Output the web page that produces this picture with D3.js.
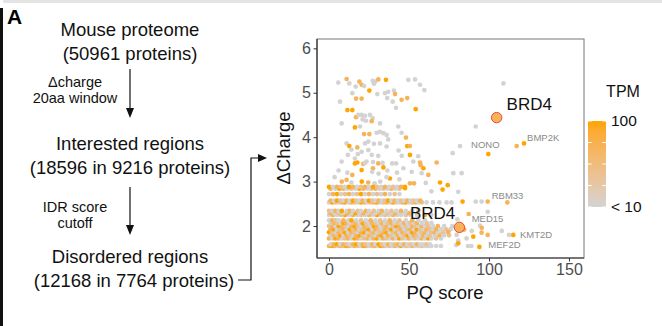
<!DOCTYPE html>
<html>
<head>
<meta charset="utf-8">
<script src="https://cdn.jsdelivr.net/npm/d3@7"></script>
<style>
  html, body { margin: 0; padding: 0; background: #fff; }
  svg { display: block; font-family: "Liberation Sans", Arial, Helvetica, sans-serif; }
</style>
</head>
<body>
<div id="fig"></div>
<script>
// flowchart text
const flowSteps = [
  ['Mouse proteome', '(50961 proteins)'],
  ['Interested regions', '(18596 in 9216 proteins)'],
  ['Disordered regions', '(12168 in 7764 proteins)'],
];
const flowFilters = [
  ['\u0394charge', '20aa window'],
  ['IDR score', 'cutoff'],
];

// axis ticks
const xTicks = [0, 50, 100, 150];
const yTicks = [2, 3, 4, 5, 6];

// TPM colour legend (log10 TPM)
const tpmBreaks = [1, 1.25, 1.5, 1.75, 2];
const tpmLabels = [[2, '100'], [1, '< 10']];

// regions in the sparse upper part: [PQ score, delta charge, TPM]
const upperRegions = [
  [5.8, 5.23, 5], [11, 5.31, 50], [12.7, 5.21, 5], [6.9, 4.8, 5], [14.6, 4.99, 5],
  [16.7, 5.14, 5], [19, 5.25, 50], [20.4, 5.18, 50], [21.9, 5.15, 5], [16.9, 4.87, 50],
  [20.4, 4.87, 50], [25.2, 5.05, 100], [27.3, 5.27, 5], [28.8, 5.25, 5], [30.8, 5.3, 50],
  [28.1, 5.2, 5], [30.2, 4.97, 5], [35.6, 5.29, 100], [35, 4.99, 5], [37, 5.02, 5],
  [40.6, 5.05, 5], [41.3, 4.97, 50], [36.4, 4.88, 5], [39.8, 4.8, 5], [41.9, 4.66, 5],
  [45.4, 4.84, 50], [48.9, 4.88, 50], [49.6, 5.29, 5], [53.8, 5.3, 5], [56.9, 5.18, 5],
  [59.6, 5.06, 5], [54.2, 4.63, 100], [11.5, 4.61, 100], [14.6, 4.61, 100], [7.9, 4.31, 5],
  [16.9, 4.45, 50], [18.3, 4.5, 5], [20.4, 4.5, 5], [22.5, 4.48, 5], [25.6, 4.5, 5],
  [27.3, 4.43, 5], [21, 4.4, 5], [23.1, 4.37, 5], [26.7, 4.36, 50], [16.2, 4.22, 100],
  [19.4, 4.24, 5], [31.9, 4.31, 5], [21.9, 4.07, 50], [25.2, 4.07, 50], [29.8, 4.1, 5],
  [31.9, 4.12, 5], [34, 4.09, 5], [36, 4.05, 5], [37, 3.95, 5], [43.3, 4.24, 5],
  [45.4, 4.1, 5], [48.1, 3.99, 50], [11, 3.86, 5], [12.7, 3.8, 100], [17.7, 3.77, 50],
  [22.5, 3.86, 5], [24.6, 3.9, 5], [28.1, 3.85, 5], [31.9, 3.86, 5], [36, 3.79, 5],
  [48.9, 3.8, 100], [50.5, 3.8, 50], [50.6, 3.6, 100], [20.4, 3.67, 5], [24.6, 3.71, 5],
  [26.7, 3.6, 5], [30.8, 3.58, 5], [11.8, 3.6, 5], [16.2, 3.52, 5], [17.7, 3.43, 100],
  [21.4, 3.4, 50], [23.5, 3.45, 5], [27.5, 3.44, 5], [34, 3.32, 100], [55.8, 3.57, 5],
  [56.9, 3.43, 50], [59, 3.3, 100], [67.3, 3.43, 50], [109, 5.21, 5], [91.7, 4.24, 5],
  [81.9, 3.8, 5], [77.3, 3.64, 5], [77.7, 3.19, 5], [82.9, 3.19, 5], [52.7, 3.45, 5],
  [57.3, 3.37, 50], [51.7, 3.22, 5], [57.9, 3.19, 5], [62.1, 3.15, 50], [69.4, 2.98, 100],
  [71, 2.82, 100], [50.6, 2.96, 50], [53.1, 2.96, 50], [74.2, 2.92, 100], [47.5, 2.85, 100],
  [7.9, 3.45, 5], [16.2, 3.41, 100], [20.4, 3.26, 100], [22.5, 3.42, 5], [27.5, 3.3, 50],
  [30.8, 3.41, 50], [33.5, 3.42, 5], [39.5, 3.41, 5], [42, 3.41, 5], [36.5, 3.25, 5],
  [42.5, 3.2, 5], [38.1, 3.07, 100], [11.5, 3.2, 5], [14.6, 3.15, 50], [8, 3.0, 50],
  [11, 3.04, 50], [14, 2.98, 5], [20.5, 3.0, 100], [24.5, 2.98, 50], [28.5, 2.96, 5],
  [32, 3.0, 5], [36, 3.1, 5], [44, 3.05, 5], [46.5, 3.3, 5], [6, 3.25, 5],
  [3.5, 3.1, 5], [45.5, 3.58, 5], [43.5, 3.7, 5], [14, 3.72, 5], [18, 3.62, 5],
  [27, 3.22, 5], [31, 3.18, 5], [80.8, 2.77, 5], [60.5, 2.97, 5], [64, 2.78, 5],
];

// regions along the dense lower bands: [delta charge, [[PQ score, TPM], ...]]
const bandRegions = [
  [1.55, [[0, 50], [1.8, 100], [3.6, 50], [5.4, 5], [7.2, 50], [9, 25], [10.8, 100], [12.6, 50],
    [14.4, 5], [16.2, 50], [18, 25], [19.8, 5], [21.6, 100], [23.4, 50], [25.2, 5], [27, 25],
    [28.8, 50], [30.6, 5], [32.4, 100], [34.2, 50], [36, 5], [37.8, 25], [39.6, 5], [41.4, 50],
    [43.2, 5], [45, 100], [46.8, 5], [48.6, 25], [50.4, 5], [52.2, 50], [54, 5], [56, 5],
    [58, 25], [60, 5], [62, 5], [64, 5], [67, 5], [70, 5]]],
  [1.59, [[1, 5], [3, 50], [5, 100], [7, 5], [9, 50], [11, 25], [13, 5], [15, 50], [17, 100],
    [19, 5], [21, 50], [23, 25], [25, 5], [27, 50], [29, 5], [31, 100], [33, 25], [35, 5],
    [37, 50], [39, 5], [41, 25], [43, 50], [45, 5], [47, 50], [49, 5], [51, 25], [53, 5],
    [55, 50], [57, 5], [59, 5], [61, 25], [63, 5]]],
  [1.72, [[0, 50], [2, 5], [4, 100], [6, 50], [8, 5], [10, 25], [12, 50], [14, 5], [16, 100],
    [18, 50], [20, 5], [22, 25], [24, 50], [26, 5], [28, 50], [30, 100], [32, 5], [34, 50],
    [36, 25], [38, 5], [40, 50], [42, 5], [44, 100], [46, 25], [48, 5], [50, 50], [52, 5],
    [54, 25], [56, 5], [58, 50], [60, 5], [62, 100], [64, 5], [67, 25], [70, 5]]],
  [1.79, [[1, 5], [3, 50], [5, 25], [7, 100], [9, 5], [11, 50], [13, 25], [15, 5], [17, 50],
    [19, 100], [21, 25], [23, 5], [25, 50], [27, 25], [29, 5], [31, 50], [33, 100], [35, 5],
    [37, 50], [39, 25], [41, 5], [43, 50], [45, 5], [47, 25], [49, 100], [51, 5], [53, 50],
    [55, 25], [57, 5], [59, 50], [61, 5], [63, 25], [66, 5], [69, 50], [72, 5], [75, 25]]],
  [1.86, [[0, 100], [2, 25], [4, 5], [6, 50], [8, 25], [10, 100], [12, 5], [14, 50], [16, 25],
    [18, 5], [20, 50], [22, 100], [24, 5], [26, 25], [28, 50], [30, 5], [32, 25], [34, 50],
    [36, 100], [38, 5], [40, 25], [42, 50], [44, 5], [46, 50], [48, 25], [50, 5], [52, 100],
    [54, 50], [56, 5], [58, 25], [60, 50], [62, 5], [64, 25], [66, 50], [68, 5], [71, 25], [74, 5]]],
  [1.93, [[1, 50], [3, 100], [5, 5], [7, 25], [9, 50], [11, 5], [13, 100], [15, 25], [17, 50],
    [19, 5], [21, 25], [23, 50], [25, 100], [27, 5], [29, 50], [31, 25], [33, 5], [35, 50],
    [37, 25], [39, 100], [41, 5], [43, 25], [45, 50], [47, 5], [49, 25], [51, 50], [53, 5],
    [55, 100], [57, 25], [59, 5], [61, 50], [63, 25], [65, 5], [67, 50], [70, 5], [73, 25], [76, 5]]],
  [2.0, [[0, 25], [2, 50], [4, 5], [6, 100], [8, 50], [10, 25], [12, 5], [14, 50], [16, 100],
    [18, 25], [20, 5], [22, 50], [24, 25], [26, 5], [28, 100], [30, 50], [32, 5], [34, 25],
    [36, 50], [38, 5], [40, 25], [42, 100], [44, 50], [46, 5], [48, 25], [50, 5], [52, 50],
    [54, 25], [56, 5], [58, 50], [60, 5], [62, 25], [65, 5], [68, 50], [72, 5]]],
  [2.07, [[1, 5], [3, 50], [5, 25], [7, 5], [9, 100], [11, 50], [13, 5], [15, 25], [17, 50],
    [19, 5], [21, 100], [23, 25], [25, 5], [27, 50], [29, 25], [31, 5], [33, 50], [35, 5],
    [37, 25], [39, 50], [41, 5], [43, 25], [45, 5], [47, 50], [49, 5], [51, 25], [53, 5],
    [55, 50], [58, 5], [61, 25], [64, 5]]],
  [2.13, [[0, 5], [2, 50], [4, 25], [6, 5], [9, 50], [12, 5], [14, 100], [17, 5], [20, 25],
    [23, 5], [26, 50], [29, 5], [32, 25], [35, 5], [38, 50], [41, 5], [44, 25], [48, 5],
    [52, 50], [56, 5], [60, 5]]],
  [2.25, [[0, 5], [2.5, 50], [5, 5], [7.5, 25], [10, 100], [12.5, 5], [15, 50], [17.5, 5],
    [20, 25], [22.5, 5], [25, 50], [27.5, 5], [30, 100], [32.5, 5], [35, 25], [37.5, 5],
    [40, 50], [42.5, 5], [45, 5], [48, 25], [51, 5], [55, 5], [60, 50], [64, 5]]],
  [2.29, [[1, 50], [3.5, 5], [6, 25], [9, 5], [11.5, 50], [14, 5], [16.5, 100], [19, 5],
    [21.5, 50], [24, 5], [26.5, 25], [29, 5], [31.5, 50], [34, 5], [36.5, 25], [39, 5],
    [41.5, 50], [44, 5], [47, 5], [50, 50]]],
  [2.34, [[0, 25], [2, 5], [4, 50], [6, 5], [8, 100], [11, 5], [13, 50], [15, 5], [18, 25],
    [20, 5], [23, 50], [25, 5], [28, 25], [31, 5], [33, 50], [36, 5], [39, 25], [42, 5],
    [45, 50], [48, 5], [52, 5], [56, 25]]],
  [2.53, [[0, 5], [2, 100], [4, 25], [6, 5], [8, 50], [10, 100], [12, 5], [14, 50], [16, 25],
    [18, 5], [20, 100], [22, 50], [24, 5], [26, 25], [28, 50], [30, 100], [32, 5], [34, 25],
    [36, 50], [38, 5], [40, 100], [42, 25], [44, 5], [46, 50], [48, 100], [50, 5], [52, 25],
    [54, 50], [56, 5], [58, 25], [61, 5], [65, 5], [69, 5], [73.5, 5], [76.6, 5]]],
  [2.57, [[1, 50], [3, 5], [5, 100], [7, 25], [9, 5], [11, 50], [13, 5], [15, 100], [17, 25],
    [19, 5], [21, 50], [23, 5], [25, 100], [27, 25], [29, 5], [31, 50], [33, 5], [35, 25],
    [37, 100], [39, 5], [41, 50], [43, 5], [45, 25], [47, 5], [49, 50], [51, 5], [53, 25],
    [55, 5], [57, 50]]],
  [2.72, [[0, 5], [2.5, 50], [5, 100], [7.5, 5], [10, 25], [12.5, 50], [15, 5], [17.5, 25],
    [20, 100], [22.5, 5], [25, 50], [27.5, 5], [30, 25], [32.5, 5], [35, 50], [38, 5],
    [41, 25], [44, 5]]],
  [2.84, [[1, 50], [4, 5], [6.5, 100], [9, 50], [11.5, 5], [14, 25], [16.5, 5], [19, 100],
    [21.5, 50], [24, 5], [26.5, 25], [29, 50], [31.5, 5], [34, 25], [36.5, 5], [39, 50],
    [41.5, 5], [44, 25]]],
  [2.88, [[0, 100], [2.5, 5], [5, 50], [7.5, 25], [10, 5], [12.5, 100], [15, 50], [17.5, 5],
    [20, 25], [22.5, 50], [25, 5], [27.5, 100], [30, 25], [32.5, 5], [35, 50], [37.5, 5],
    [40, 25], [42.5, 5], [45, 50], [47.5, 100]]],
];

// regions to the right of the bulk: [PQ score, delta charge, TPM]
const tailRegions = [
  [83.5, 2.55, 100], [91.7, 2.55, 5], [95.4, 2.55, 5], [99.2, 2.55, 50], [99.2, 2.32, 5],
  [80.2, 2.15, 5], [89.2, 1.89, 5], [90.2, 1.76, 100], [95.4, 1.85, 50], [79.8, 1.8, 5],
  [80.8, 1.67, 5], [86.9, 1.55, 5], [89, 1.55, 5], [79.5, 1.57, 5], [74.6, 1.87, 50],
  [94.4, 2.01, 5], [95.5, 1.96, 50], [99.2, 1.8, 50], [108, 1.89, 5], [112.5, 1.8, 5],
  [86, 1.72, 5], [80.8, 1.61, 100], [77, 2.0, 5], [84.5, 1.92, 50], [117.3, 3.8, 50],
];

// named regions: gene, PQ score, delta charge, TPM, label anchor (data units)
const namedRegions = [
  ['NONO', 99.6, 3.62, 100, 88.8, 3.82],
  ['BMP2K', 121.9, 3.86, 100, 123.8, 3.99],
  ['RBM33', 111.5, 2.53, 50, 101.7, 2.68],
  ['MED15', 87.3, 2.27, 50, 89.2, 2.16],
  ['KMT2D', 115.2, 1.8, 100, 119.4, 1.8],
  ['MEF2D', 94, 1.53, 100, 99.6, 1.59],
];
const brd4Regions = [
  [104.8, 4.44, 50, 111, 4.75],
  [81.5, 1.97, 50, 50.6, 2.29],
];

const W = 662;
const H = 326;

const svg = d3.select('#fig').append('svg')
  .attr('width', W)
  .attr('height', H);

// frame of the figure panel
svg.append('rect').attr('x', 3).attr('y', 0).attr('width', W).attr('height', 3)
  .attr('fill', '#e4e4e4');
svg.append('rect').attr('x', 0).attr('y', 8).attr('width', 3).attr('height', H)
  .attr('fill', '#111');
svg.append('text').attr('x', 7).attr('y', 24)
  .style('font-size', '21px').style('font-weight', 'bold')
  .text('A');

// ---- flowchart ----
const flow = svg.append('g');
const stepY = [36, 150, 263];
const cx = 130;

flowSteps.forEach((lines, i) => {
  lines.forEach((t, j) => {
    flow.append('text')
      .attr('x', i === 2 && j === 1 ? cx + 4 : cx)
      .attr('y', stepY[i] + j * 24)
      .attr('text-anchor', 'middle')
      .style('font-size', '18.5px')
      .attr('fill', '#111')
      .text(t);
  });
});

const arrowDown = (x, y1, y2) => {
  flow.append('line').attr('x1', x).attr('x2', x).attr('y1', y1).attr('y2', y2 - 8)
    .attr('stroke', '#111').attr('stroke-width', 1.2);
  flow.append('path')
    .attr('d', `M${x - 4},${y2 - 10}L${x + 4},${y2 - 10}L${x},${y2}Z`)
    .attr('fill', '#111');
};
arrowDown(cx, 69, 118);
arrowDown(cx, 187, 235);

flowFilters.forEach((lines, i) => {
  lines.forEach((t, j) => {
    flow.append('text')
      .attr('x', 75)
      .attr('y', [87, 212][i] + j * 15.5)
      .attr('text-anchor', 'middle')
      .style('font-size', '14.5px')
      .attr('fill', '#111')
      .text(t);
  });
});

// connector from the last step to the scatter plot
flow.append('path')
  .attr('d', 'M238,280H251V158H259')
  .attr('fill', 'none').attr('stroke', '#111').attr('stroke-width', 1.2);
flow.append('path').attr('d', 'M258,154L267,158L258,162Z').attr('fill', '#111');

// ---- scatter plot ----
const x = d3.scaleLinear().domain([-7.5, 159.4]).range([317, 584]);
const y = d3.scaleLinear().domain([1.28, 6.21]).range([258, 39]);

const tpmColor = d3.scaleLinear()
  .domain([1, 2])
  .range(['lightgrey', 'orange'])
  .interpolate(d3.interpolateLab)
  .clamp(true);
const colorOf = (tpm) => tpmColor(Math.log10(Math.max(tpm, 1)));

const plot = svg.append('g');

plot.append('rect')
  .attr('x', 317).attr('y', 39).attr('width', 267).attr('height', 219)
  .attr('fill', '#fff').attr('stroke', '#777').attr('stroke-width', 1);

const points = [];
upperRegions.forEach((d) => points.push(d));
bandRegions.forEach(([dc, row]) => row.forEach(([pq, tpm]) => points.push([pq, dc, tpm])));
tailRegions.forEach((d) => points.push(d));
namedRegions.forEach((d) => points.push([d[1], d[2], d[3]]));

plot.append('g').selectAll('circle')
  .data(points)
  .join('circle')
  .attr('cx', (d) => x(d[0]))
  .attr('cy', (d) => y(d[1]))
  .attr('r', 2.35)
  .attr('fill', (d) => colorOf(d[2]));

plot.append('g').selectAll('circle')
  .data(brd4Regions)
  .join('circle')
  .attr('cx', (d) => x(d[0]))
  .attr('cy', (d) => y(d[1]))
  .attr('r', 5.2)
  .attr('fill', (d) => colorOf(d[2]))
  .attr('stroke', '#e8453c')
  .attr('stroke-width', 1);

plot.append('g').selectAll('text')
  .data(brd4Regions)
  .join('text')
  .attr('x', (d) => x(d[3]))
  .attr('y', (d) => y(d[4]))
  .attr('dy', '0.35em')
  .style('font-size', '17px')
  .attr('fill', '#111')
  .text('BRD4');

plot.append('g').selectAll('text')
  .data(namedRegions)
  .join('text')
  .attr('x', (d) => x(d[4]))
  .attr('y', (d) => y(d[5]))
  .attr('dy', '0.35em')
  .style('font-size', '9.5px')
  .attr('fill', '#8a8a8a')
  .text((d) => d[0]);

// axes
const yAxis = plot.append('g')
  .attr('transform', 'translate(317,0)')
  .call(d3.axisLeft(y).tickValues(yTicks).tickFormat(d3.format('d')).tickSize(3.5).tickPadding(2.5));
const xAxis = plot.append('g')
  .attr('transform', 'translate(0,258)')
  .call(d3.axisBottom(x).tickValues(xTicks).tickFormat(d3.format('d')).tickSize(3.5).tickPadding(2));

[xAxis, yAxis].forEach((ax) => {
  ax.select('.domain').attr('stroke', '#333').attr('stroke-width', 1.2);
  ax.selectAll('.tick line').attr('stroke', '#333');
  ax.selectAll('.tick text')
    .style('font-size', '16px')
    .style('font-family', '"Liberation Sans", Arial, sans-serif')
    .attr('fill', '#4d4d4d');
});
xAxis.select('.domain').attr('d', 'M317,0H584');
yAxis.select('.domain').attr('d', 'M0,39V258');

plot.append('text')
  .attr('transform', 'translate(290,148) rotate(-90)')
  .attr('text-anchor', 'middle')
  .style('font-size', '18.5px')
  .attr('fill', '#111')
  .text('\u0394Charge');

plot.append('text')
  .attr('x', 445)
  .attr('y', 299)
  .attr('text-anchor', 'middle')
  .style('font-size', '18.5px')
  .attr('fill', '#111')
  .text('PQ score');

// ---- TPM legend ----
const legend = svg.append('g');
const barX = 588;
const barW = 18;
const bar = d3.scaleLinear().domain([1, 2]).range([207, 121]);

const grad = svg.append('defs').append('linearGradient')
  .attr('id', 'tpm-grad')
  .attr('x1', 0).attr('y1', 1).attr('x2', 0).attr('y2', 0);
d3.range(0, 1.0001, 0.1).forEach((t) => {
  grad.append('stop')
    .attr('offset', t)
    .attr('stop-color', tpmColor(1 + t));
});

legend.append('text')
  .attr('x', 623).attr('y', 97)
  .attr('text-anchor', 'middle')
  .style('font-size', '16px')
  .attr('fill', '#111')
  .text('TPM');

legend.append('rect')
  .attr('x', barX).attr('y', bar(2))
  .attr('width', barW).attr('height', bar(1) - bar(2))
  .attr('fill', 'url(#tpm-grad)');

legend.append('g').selectAll('path')
  .data(tpmBreaks)
  .join('path')
  .attr('d', (d) => `M${barX},${bar(d)}h3.6M${barX + barW - 3.6},${bar(d)}h3.6`)
  .attr('stroke', '#fff')
  .attr('stroke-width', 1);

legend.append('g').selectAll('text')
  .data(tpmLabels)
  .join('text')
  .attr('x', barX + barW + 5)
  .attr('y', (d) => bar(d[0]))
  .attr('dy', '0.35em')
  .style('font-size', '15.5px')
  .attr('fill', '#111')
  .text((d) => d[1]);
</script>
</body>
</html>
